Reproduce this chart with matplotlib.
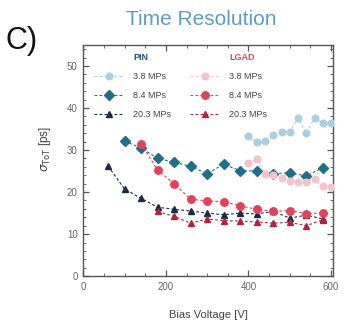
import matplotlib
matplotlib.use("Agg")
import matplotlib.pyplot as plt
from matplotlib.lines import Line2D
from matplotlib.ticker import MultipleLocator

plt.rcParams['font.family'] = ['Liberation Sans', 'DejaVu Sans']

# ---- data ----
pin_38_v = [400, 420, 440, 460, 480, 500, 520, 540, 560, 580, 600]
pin_38 = [33.3, 31.9, 32.1, 33.5, 34.4, 34.3, 37.6, 34.0, 37.6, 36.4, 36.4]

pin_84_v = [100, 140, 180, 220, 260, 300, 340, 380, 420, 460, 500, 540, 580]
pin_84 = [32.1, 30.5, 28.0, 27.1, 26.1, 24.4, 26.6, 25.1, 25.0, 24.4, 24.6, 23.8, 25.8]

pin_203_v = [60, 100, 140, 180, 220, 260, 300, 340, 380, 420, 460, 500, 540, 580]
pin_203 = [26.2, 20.7, 18.5, 16.4, 15.9, 15.5, 15.0, 14.6, 15.0, 14.8, 15.4, 13.8, 14.5, 13.6]

lgad_38_v = [400, 420, 440, 460, 480, 500, 520, 540, 560, 580, 600]
lgad_38 = [27.0, 27.8, 24.4, 24.0, 23.4, 22.6, 22.5, 22.5, 23.0, 21.5, 21.1]

lgad_84_v = [140, 180, 220, 260, 300, 340, 380, 420, 460, 500, 540, 580]
lgad_84 = [31.5, 25.2, 22.0, 18.3, 17.9, 17.7, 16.7, 15.9, 15.4, 15.6, 14.9, 15.0]

lgad_203_v = [180, 220, 260, 300, 340, 380, 420, 460, 500, 540, 580]
lgad_203 = [15.4, 14.2, 12.6, 13.6, 13.2, 13.1, 12.9, 12.6, 12.8, 12.0, 13.4]

labels = ["3.8 MPs", "8.4 MPs", "20.3 MPs"]

fig = plt.figure(figsize=(3.47, 3.26), dpi=100)
ax = fig.add_axes([0.240, 0.153, 0.720, 0.709])

c_pin = ['#a9cfe0', '#1f6f8a', '#1b2b44']
c_lgad = ['#f5c3cc', '#e2435c', '#b0243e']
mk_pin = ['o', 'D', '^']
mk_lgad = ['o', 'o', '^']
ms_pin = [4.8, 4.8, 4.4]
ms_lgad = [4.8, 5.4, 4.4]

pin_sets = [(pin_38_v, pin_38), (pin_84_v, pin_84), (pin_203_v, pin_203)]
lgad_sets = [(lgad_38_v, lgad_38), (lgad_84_v, lgad_84), (lgad_203_v, lgad_203)]

ls = (0, (2.5, 2))
for i, (xv, yv) in enumerate(pin_sets):
    ax.plot(xv, yv, linestyle=ls, lw=0.8, color=c_pin[i], marker=mk_pin[i],
            ms=ms_pin[i], mec=c_pin[i], mfc=c_pin[i], zorder=3)
for i, (xv, yv) in enumerate(lgad_sets):
    ax.plot(xv, yv, linestyle=ls, lw=0.8, color=c_lgad[i], marker=mk_lgad[i],
            ms=ms_lgad[i], mec=c_lgad[i], mfc=c_lgad[i], zorder=3)

ax.set_xlim(0, 605)
ax.set_ylim(0, 55)
ax.xaxis.set_major_locator(MultipleLocator(200))
ax.xaxis.set_minor_locator(MultipleLocator(50))
ax.yaxis.set_major_locator(MultipleLocator(10))
ax.yaxis.set_minor_locator(MultipleLocator(2))
ax.tick_params(which='both', direction='in', top=True, right=True,
               colors='#555555', labelcolor='#666666', labelsize=7)
ax.tick_params(which='major', length=4, width=0.9, pad=4)
ax.tick_params(which='minor', length=2, width=0.6)
for s in ax.spines.values():
    s.set_color('#555555')
    s.set_linewidth(1.0)

ax.set_xlabel("Bias Voltage [V]", fontsize=8, color='#444444', labelpad=13)
ax.set_ylabel(r"$\sigma_{\mathrm{ToT}}$ [ps]", fontsize=8.5, color='#444444', labelpad=6)
ax.yaxis.set_label_coords(-0.12, 0.55)

fig.text(0.58, 0.94, "Time Resolution", fontsize=15, color='#5b9ec0',
         ha='center', va='center')
fig.text(0.015, 0.875, "C)", fontsize=22, color='#111111', ha='left', va='center')

# legend
handles = [Line2D([], [], linestyle='none', marker=None)]
lbls = ["PIN"]
for i in range(3):
    handles.append(Line2D([], [], linestyle=ls, lw=0.8, color=c_pin[i], marker=mk_pin[i],
                          ms=ms_pin[i], mfc=c_pin[i], mec=c_pin[i]))
    lbls.append(labels[i])
handles.append(Line2D([], [], linestyle='none', marker=None))
lbls.append("LGAD")
for i in range(3):
    handles.append(Line2D([], [], linestyle=ls, lw=0.8, color=c_lgad[i],
                          marker=mk_lgad[i], ms=ms_lgad[i], mfc=c_lgad[i], mec=c_lgad[i]))
    lbls.append(labels[i])
leg = ax.legend(handles, lbls, ncol=2, loc='upper left', bbox_to_anchor=(0.012, 1.0),
                frameon=False, fontsize=6.5, handlelength=3.3, handletextpad=1.0,
                columnspacing=2.1, labelspacing=1.1, borderaxespad=0.5)
texts = leg.get_texts()
texts[0].set_color('#1f4f80'); texts[0].set_fontweight('bold')
texts[4].set_color('#d9485a'); texts[4].set_fontweight('bold')
for j, t in enumerate(texts):
    if j not in (0, 4):
        t.set_color('#444444')

fig.savefig("out.png", dpi=100)
